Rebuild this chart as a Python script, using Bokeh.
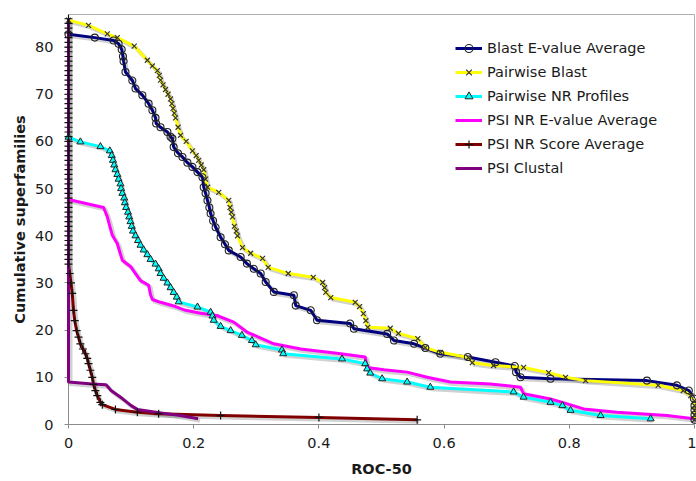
from bokeh.plotting import figure
from bokeh.models import Range1d, FixedTicker, Legend, LegendItem
from bokeh.embed import file_html
from bokeh.resources import INLINE

# ---------------- data ----------------
x_ticks = [0, 0.2, 0.4, 0.6, 0.8, 1.0]
x_tick_labels = ["0", "0.2", "0.4", "0.6", "0.8", "1"]
y_ticks = [0, 10, 20, 30, 40, 50, 60, 70, 80]

series_names = ["Blast E-value Average", "Pairwise Blast", "Pairwise NR Profiles",
                "PSI NR E-value Average", "PSI NR Score Average", "PSI Clustal"]

blast_ev_x = [0.0, 0.042, 0.072, 0.080, 0.085, 0.087, 0.088, 0.091, 0.102, 0.107, 0.118, 0.128,
              0.134, 0.139, 0.140, 0.147, 0.158, 0.163, 0.166, 0.168, 0.175, 0.182, 0.190, 0.198,
              0.206, 0.214, 0.216, 0.219, 0.222, 0.225, 0.227, 0.231, 0.235, 0.243, 0.250, 0.256,
              0.275, 0.285, 0.296, 0.307, 0.315, 0.328, 0.360, 0.363, 0.387, 0.397, 0.450, 0.456,
              0.509, 0.520, 0.552, 0.570, 0.594, 0.638, 0.682, 0.713, 0.715, 0.722, 0.770, 0.924,
              0.972, 0.991, 0.999, 1.0, 1.0, 1.0, 1.0]
blast_ev_y = [82.7, 82.0, 81.4, 80.7, 79.5, 78.0, 77.0, 74.7, 72.9, 71.2, 69.8, 68.0,
              66.6, 65.0, 63.8, 63.0, 62.0, 61.0, 60.6, 58.8, 57.5, 56.7, 55.5, 54.6,
              53.5, 52.4, 50.3, 49.0, 47.5, 46.0, 44.7, 43.2, 41.8, 39.7, 38.2, 36.9,
              35.5, 34.1, 33.0, 32.0, 30.2, 28.1, 27.4, 25.2, 24.2, 22.1, 21.4, 20.3,
              19.2, 17.8, 17.1, 16.2, 15.0, 14.3, 13.2, 12.4, 11.1, 10.0, 9.7, 9.3,
              8.3, 7.2, 5.5, 4.0, 3.0, 2.0, 1.0]

pair_blast_x = [0.0, 0.032, 0.062, 0.078, 0.105, 0.126, 0.134, 0.142, 0.145, 0.147, 0.151, 0.155,
                0.159, 0.163, 0.165, 0.167, 0.169, 0.171, 0.175, 0.179, 0.188, 0.198, 0.204, 0.208,
                0.212, 0.216, 0.219, 0.222, 0.240, 0.256, 0.258, 0.260, 0.262, 0.265, 0.268, 0.270,
                0.278, 0.291, 0.310, 0.319, 0.351, 0.391, 0.406, 0.409, 0.411, 0.419, 0.458, 0.465,
                0.471, 0.475, 0.478, 0.514, 0.527, 0.558, 0.570, 0.594, 0.639, 0.645, 0.679, 0.727,
                0.767, 0.794, 0.826, 0.942, 0.982, 0.994, 1.0, 1.0, 1.0, 1.0, 1.0]
pair_blast_y = [85.7, 84.6, 82.8, 82.0, 80.2, 77.2, 76.0, 75.0, 74.0, 73.0, 72.0, 71.0,
                70.0, 69.0, 68.0, 67.0, 66.0, 65.0, 63.0, 61.3, 60.0, 58.0, 57.0, 56.0,
                55.0, 54.0, 52.0, 50.3, 49.2, 47.5, 46.0, 45.0, 44.0, 42.0, 41.0, 40.0,
                37.5, 36.3, 35.2, 33.3, 32.0, 31.2, 30.1, 29.0, 28.0, 26.9, 25.9, 25.0,
                23.5, 22.0, 20.6, 20.4, 19.3, 18.2, 16.3, 15.3, 14.2, 13.1, 12.5, 12.1,
                11.0, 10.0, 9.3, 8.3, 7.2, 6.1, 5.0, 4.0, 3.0, 2.0, 1.0]

pair_nr_x = [0.0, 0.019, 0.051, 0.066, 0.069, 0.071, 0.073, 0.075, 0.078, 0.080, 0.083, 0.084,
             0.086, 0.089, 0.090, 0.092, 0.095, 0.097, 0.099, 0.101, 0.103, 0.107, 0.111, 0.115,
             0.120, 0.126, 0.131, 0.139, 0.144, 0.147, 0.152, 0.158, 0.163, 0.168, 0.173, 0.176,
             0.206, 0.227, 0.230, 0.232, 0.243, 0.259, 0.277, 0.293, 0.299, 0.341, 0.343, 0.437,
             0.474, 0.477, 0.482, 0.501, 0.541, 0.578, 0.711, 0.727, 0.770, 0.789, 0.802, 0.850,
             0.930]
pair_nr_y = [60.9, 59.9, 58.9, 58.0, 57.0, 56.0, 55.0, 54.0, 53.0, 52.0, 51.0, 50.0,
             49.0, 48.0, 47.0, 46.0, 45.0, 44.0, 43.0, 42.0, 41.0, 40.0, 39.0, 38.0,
             37.0, 36.0, 35.0, 34.0, 33.0, 32.0, 31.0, 30.0, 29.0, 28.0, 27.0, 26.0,
             24.9, 23.8, 23.0, 22.1, 20.8, 19.9, 18.9, 17.8, 16.9, 15.8, 15.0, 13.9,
             12.9, 11.8, 10.9, 9.7, 9.0, 7.9, 6.9, 5.8, 4.7, 4.0, 3.0, 1.9,
             1.2]

psi_ev_x = [0.0, 0.056, 0.062, 0.066, 0.070, 0.078, 0.082, 0.086, 0.099, 0.107, 0.115, 0.128,
            0.131, 0.134, 0.147, 0.171, 0.187, 0.211, 0.237, 0.264, 0.285, 0.328, 0.371, 0.435,
            0.474, 0.477, 0.504, 0.541, 0.573, 0.610, 0.674, 0.722, 0.727, 0.770, 0.789, 0.823,
            0.876, 0.956, 0.999]
psi_ev_y = [47.7, 46.0, 44.0, 42.0, 40.1, 38.3, 36.5, 34.8, 33.5, 32.0, 30.5, 29.5,
            27.5, 26.5, 25.9, 25.0, 24.2, 23.6, 23.1, 21.7, 19.6, 17.1, 16.0, 15.0,
            14.3, 12.1, 11.6, 11.1, 10.0, 9.0, 8.6, 7.9, 6.5, 5.4, 4.7, 3.3,
            2.6, 1.9, 1.2]

psi_score_x = [0.0, 0.0, 0.0, 0.0, 0.0, 0.0, 0.0, 0.0, 0.0, 0.0, 0.0, 0.0, 0.0,
               0.0, 0.0, 0.0, 0.0, 0.0, 0.0, 0.0, 0.0, 0.0, 0.0, 0.0, 0.0, 0.0,
               0.0, 0.0, 0.0, 0.0, 0.0, 0.0, 0.0, 0.0, 0.0, 0.0, 0.0, 0.0, 0.0,
               0.0, 0.0, 0.0, 0.0, 0.0, 0.0, 0.0, 0.0, 0.0, 0.0, 0.0, 0.0, 0.0, 0.0,
               0.002, 0.004, 0.006, 0.008, 0.010, 0.013, 0.016, 0.019, 0.023, 0.027, 0.030,
               0.032, 0.035, 0.038, 0.040, 0.043, 0.046, 0.051, 0.054, 0.075, 0.110, 0.144,
               0.243, 0.400, 0.557]
psi_score_y = [86, 85, 84, 83, 82, 81, 80, 79, 78, 77, 76, 75, 74,
               73, 72, 71, 70, 69, 68, 67, 66, 65, 64, 63, 62, 61,
               60, 59, 58, 57, 56, 55, 54, 53, 52, 51, 50, 49, 48,
               47, 46, 45, 44, 43, 42, 41, 40, 39, 38, 37, 36, 35, 34,
               32.0, 30.0, 27.8, 24.2, 22.0, 19.9, 18.5, 17.1, 16.0, 15.0, 14.0,
               12.9, 11.5, 10.0, 8.5, 7.2, 6.1, 4.7, 4.2, 3.2, 2.6, 2.3,
               1.9, 1.5, 1.0]

psi_clustal_x = [0.0, 0.0, 0.038, 0.060, 0.068, 0.086, 0.100, 0.110, 0.145, 0.179, 0.207]
psi_clustal_y = [86.0, 9.0, 8.6, 8.4, 7.2, 5.5, 4.0, 3.2, 2.5, 1.9, 1.2]

# ---------------- styling ----------------
COLORS = ["#000080", "#FFFF00", "#00FFFF", "#FF00FF", "#800000", "#800080"]
FONT = "DejaVu Sans"
X_MAX, Y_MAX = 1.0, 86.9
FRAME_W, FRAME_H = 626, 410
SHADOW_DX = 2.0 * X_MAX / FRAME_W
SHADOW_DY = -2.0 * Y_MAX / FRAME_H

p = figure(width=696, height=481, output_backend="svg", toolbar_location=None,
           x_range=Range1d(0, X_MAX), y_range=Range1d(0, Y_MAX),
           min_border_left=68, min_border_right=2, min_border_top=14, min_border_bottom=57)

p.xgrid.visible = False
p.ygrid.visible = False
p.outline_line_color = "#b0b0b0"
p.outline_line_width = 1
p.background_fill_color = "white"
p.border_fill_color = "white"

for ax in (p.xaxis[0], p.yaxis[0]):
    ax.axis_line_color = "#8c8c8c"
    ax.major_tick_line_color = "#8c8c8c"
    ax.minor_tick_line_color = None
    ax.major_tick_in = 0
    ax.major_tick_out = 4
    ax.major_label_text_font = FONT
    ax.major_label_text_font_size = "14.5px"
    ax.major_label_text_color = "#1a1a1a"
    ax.axis_label_text_font = FONT
    ax.axis_label_text_font_size = "14.5px"
    ax.axis_label_text_font_style = "bold"
    ax.axis_label_text_color = "#1a1a1a"

p.xaxis.ticker = FixedTicker(ticks=x_ticks)
p.xaxis.major_label_overrides = {t: l for t, l in zip(x_ticks, x_tick_labels)}
p.xaxis.major_label_standoff = 9
p.xaxis.axis_label = "ROC-50"
p.xaxis.axis_label_standoff = 10

p.yaxis.ticker = FixedTicker(ticks=y_ticks)
p.yaxis.major_label_standoff = 11
p.yaxis.axis_label = "Cumulative superfamilies"
p.yaxis.axis_label_standoff = 4

data = [(blast_ev_x, blast_ev_y), (pair_blast_x, pair_blast_y), (pair_nr_x, pair_nr_y),
        (psi_ev_x, psi_ev_y), (psi_score_x, psi_score_y), (psi_clustal_x, psi_clustal_y)]

# shadows
for xs, ys in data:
    p.line([v + SHADOW_DX for v in xs], [v + SHADOW_DY for v in ys],
           line_color="#000000", line_alpha=0.18, line_width=4, line_join="round")

markers = ["circle", "x", "triangle", None, "cross", None]
items = []
for (xs, ys), col, mk, name in zip(data, COLORS, markers, series_names):
    rs = [p.line(xs, ys, line_color=col, line_width=3, line_join="round", level="overlay")]
    items.append((name, rs, xs, ys, mk))

for name, rs, xs, ys, mk in items:
    if mk == "circle":
        rs.append(p.scatter(xs, ys, marker="circle", size=7, fill_color=None,
                            line_color="#222222", line_width=1.1, level="overlay"))
    elif mk == "x":
        rs.append(p.scatter(xs, ys, marker="x", size=7, line_color="#333333", line_width=1.2,
                            level="overlay"))
    elif mk == "triangle":
        rs.append(p.scatter(xs, ys, marker="triangle", size=7, fill_color="#00FFFF",
                            line_color="#222222", line_width=1, level="overlay"))
    elif mk == "cross":
        rs.append(p.scatter(xs, ys, marker="cross", size=8, line_color="#111111", line_width=1.2,
                            level="overlay"))

legend = Legend(items=[LegendItem(label=name, renderers=rs) for name, rs, _, _, _ in items],
                location=(387, 246), padding=0, margin=0, spacing=4,
                glyph_width=27, glyph_height=20, label_height=20, label_standoff=5,
                label_text_font=FONT, label_text_font_size="14.5px", label_text_color="#1a1a1a",
                border_line_alpha=0, background_fill_alpha=0)
p.add_layout(legend)

open("out.html", "w").write(file_html(p, INLINE))
